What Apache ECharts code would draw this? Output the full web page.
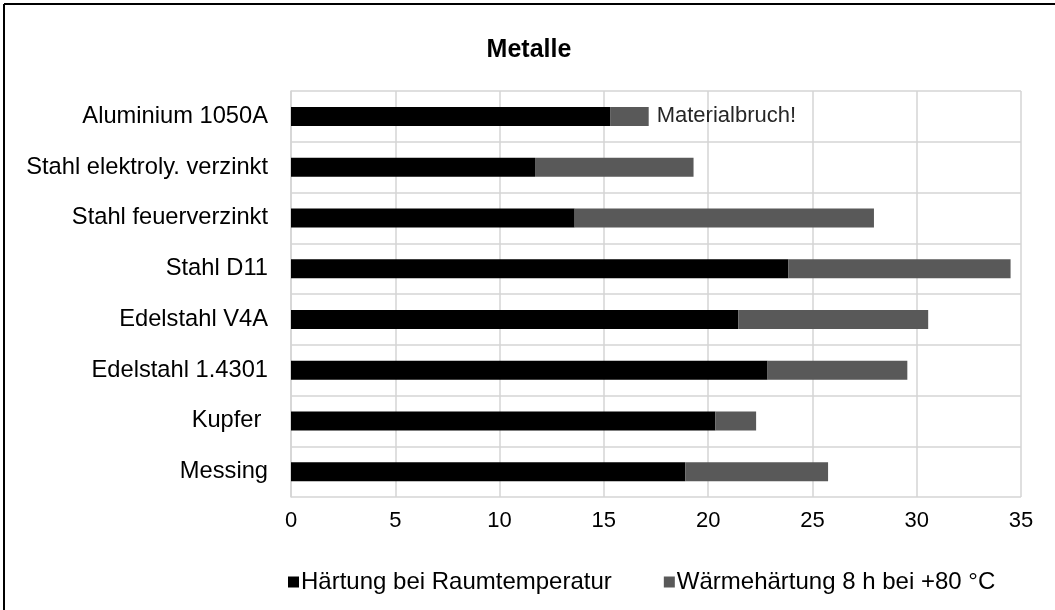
<!DOCTYPE html>
<html>
<head>
<meta charset="utf-8">
<script src="https://cdn.jsdelivr.net/npm/echarts@6/dist/echarts.min.js"></script>
<style>
html,body{margin:0;padding:0;background:#fff;}
#chart{width:1055px;height:610px;}
</style>
</head>
<body>
<div id="chart"></div>
<script>
const categories = ['Aluminium 1050A','Stahl elektroly. verzinkt','Stahl feuerverzinkt','Stahl D11','Edelstahl V4A','Edelstahl 1.4301','Kupfer ','Messing'];
const roomTemp = [15.3, 11.7, 13.6, 23.85, 21.45, 22.85, 20.35, 18.9];
const heatExtra = [1.85, 7.6, 14.35, 10.65, 9.1, 6.7, 1.95, 6.85];
const xTicks = [0, 5, 10, 15, 20, 25, 30, 35];
const seriesNames = ['Härtung bei Raumtemperatur', 'Wärmehärtung 8 h bei +80 °C'];
const noteText = 'Materialbruch!';
const noteIndex = 0;

const FONT = '"Liberation Sans", Arial, sans-serif';
const chart = echarts.init(document.getElementById('chart'), null, {renderer:'canvas'});

const heatData = heatExtra.map((v, i) => i === noteIndex ? {
  value: v,
  label: {show: true, position: 'right', distance: 8, formatter: noteText,
          color: '#262626', fontSize: 22, fontFamily: FONT}
} : v);

chart.setOption({
  animation: false,
  backgroundColor: '#fff',
  title: {
    text: 'Metalle', left: 524, top: 33, textAlign: 'center',
    textStyle: {fontFamily: FONT, fontSize: 25, fontWeight: 'bold', color: '#000'}
  },
  legend: {
    left: 283, top: 565, itemWidth: 11, itemHeight: 11, itemGap: 52,
    icon: 'rect',
    textStyle: {fontFamily: FONT, fontSize: 24, color: '#000', padding: [0,0,0,-3]},
    data: seriesNames
  },
  grid: {left: 291, right: 34, top: 91, bottom: 113, containLabel: false},
  xAxis: {
    type: 'value', min: xTicks[0], max: xTicks[xTicks.length-1], interval: 5,
    axisLine: {show: false}, axisTick: {show: false},
    axisLabel: {fontFamily: FONT, fontSize: 22, color: '#000', margin: 13},
    splitLine: {show: true, lineStyle: {color: '#d4d4d4', width: 1.5}}
  },
  yAxis: {
    type: 'category', inverse: true, data: categories,
    axisLine: {show: true, lineStyle: {color: '#d4d4d4', width: 1.5}},
    axisTick: {show: false},
    axisLabel: {fontFamily: FONT, fontSize: 23.7, color: '#000', margin: 23},
    splitLine: {show: true, lineStyle: {color: '#d4d4d4', width: 1.5}}
  },
  series: [
    {name: seriesNames[0], type: 'bar', stack: 'total', data: roomTemp, barWidth: 19,
     itemStyle: {color: '#000000'}},
    {name: seriesNames[1], type: 'bar', stack: 'total', data: heatData, barWidth: 19,
     itemStyle: {color: '#595959'}}
  ],
  graphic: [
    {type: 'line', shape: {x1: 4, y1: 4, x2: 1055, y2: 4}, style: {stroke: '#000', lineWidth: 2}},
    {type: 'line', shape: {x1: 4, y1: 4, x2: 4, y2: 610}, style: {stroke: '#000', lineWidth: 2}}
  ]
});
</script>
</body>
</html>
